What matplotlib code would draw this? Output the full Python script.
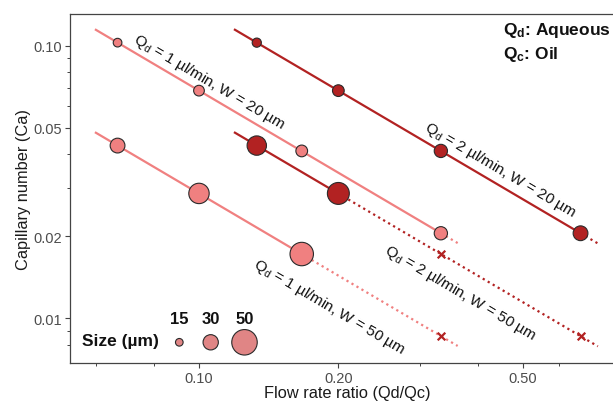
import numpy as np
import matplotlib
matplotlib.use("Agg")
import matplotlib.pyplot as plt
from matplotlib.ticker import FixedLocator, FixedFormatter, NullFormatter

plt.rcParams['font.family'] = ['Liberation Sans', 'DejaVu Sans']
plt.rcParams['mathtext.fontset'] = 'custom'
plt.rcParams['mathtext.rm'] = 'Liberation Sans'
plt.rcParams['mathtext.it'] = 'Liberation Sans:italic'
plt.rcParams['mathtext.bf'] = 'Liberation Sans:bold'

# ---------------- data ----------------
ratio_q1 = [0.0667, 0.100, 0.1667, 0.333]      # Qd = 1 ul/min
ratio_q2 = [0.1333, 0.200, 0.333, 0.667]       # Qd = 2 ul/min
ca_w20 = [0.1026, 0.0684, 0.0411, 0.0205]
ca_w50 = [0.0430, 0.0287, 0.0172, 0.0086]

size_q1_w20 = [17, 21, 23, 26]
size_q2_w20 = [18, 23, 26, 29]
size_q1_w50 = [29, 40, 46]          # last point: no droplets (x)
size_q2_w50 = [38, 43]              # last two points: no droplets (x)

line_start_q1 = 0.0596
line_start_q2 = 0.119
line_end_q1 = 0.362
line_end_q2 = 0.727

labels = ["Q$_\\mathregular{d}$ = 1 µl/min, W = 20 µm",
          "Q$_\\mathregular{d}$ = 2 µl/min, W = 20 µm",
          "Q$_\\mathregular{d}$ = 2 µl/min, W = 50 µm",
          "Q$_\\mathregular{d}$ = 1 µl/min, W = 50 µm"]
label_pos_x = [0.0719, 0.305, 0.2585, 0.1350]
label_pos_y = [0.1043, 0.0497, 0.01935, 0.01720]

legend_sizes = [15, 30, 50]
x_major = [0.10, 0.20, 0.50]
x_minor = [0.06, 0.08, 0.3, 0.4, 0.6, 0.8]
y_major = [0.01, 0.02, 0.05, 0.10]
y_minor = [0.008, 0.009, 0.03, 0.04, 0.06, 0.07, 0.08, 0.09]

LIGHT = '#F08080'
DARK = '#B22222'
EDGE = '#2a2a2a'

def s_of(d):
    return (0.367 * np.asarray(d, float)) ** 2

fig = plt.figure(figsize=(6.13, 4.02), dpi=100)
ax = fig.add_axes([70/613, 38/402, 554/613, 349/402])
ax.set_xscale('log')
ax.set_yscale('log')
ax.set_xlim(0.05265, 0.828)
ax.set_ylim(0.00685, 0.1307)

series = [
    (ratio_q1, ca_w20, size_q1_w20, LIGHT, line_start_q1, line_end_q1),
    (ratio_q2, ca_w20, size_q2_w20, DARK, line_start_q2, line_end_q2),
    (ratio_q1, ca_w50, size_q1_w50, LIGHT, line_start_q1, line_end_q1),
    (ratio_q2, ca_w50, size_q2_w50, DARK, line_start_q2, line_end_q2),
]

for rx, cy, sz, col, x0, x1 in series:
    lx = np.log10(rx); ly = np.log10(cy)
    a, b = np.polyfit(lx, ly, 1)
    f = lambda x: 10 ** (a * np.log10(x) + b)
    n = len(sz)
    xs_solid = np.array([x0, rx[n - 1]])
    xs_dot = np.array([rx[n - 1], x1])
    ax.plot(xs_solid, f(xs_solid), color=col, lw=1.6, zorder=2, solid_capstyle='butt')
    ax.plot(xs_dot, f(xs_dot), color=col, lw=1.6, ls=(0, (1, 1.6)), zorder=2)
    ax.scatter(rx[:n], cy[:n], s=s_of(sz), color=col, edgecolors=EDGE,
               linewidths=0.8, zorder=3)
    if n < len(rx):
        ax.scatter(rx[n:], cy[n:], marker='x', s=30, color=DARK, linewidths=1.6, zorder=3)

# rotation of lines in display space
fig.canvas.draw()
p0 = ax.transData.transform((0.1, 0.05))
p1 = ax.transData.transform((0.2, 0.025))
ang = np.degrees(np.arctan2(p1[1] - p0[1], p1[0] - p0[0]))

vas = ['baseline', 'baseline', 'top', 'top']
for t, x, y, va in zip(labels, label_pos_x, label_pos_y, vas):
    ax.text(x, y, t, rotation=ang, rotation_mode='anchor', ha='left', va=va,
            fontsize=11, color='#111111', zorder=4)

# axes styling
for sp in ['left', 'bottom', 'top']:
    ax.spines[sp].set_color('#444444')
    ax.spines[sp].set_linewidth(0.9)
ax.spines['right'].set_visible(False)
ax.xaxis.set_major_locator(FixedLocator(x_major))
ax.xaxis.set_major_formatter(FixedFormatter(['%.2f' % v for v in x_major]))
ax.xaxis.set_minor_locator(FixedLocator(x_minor))
ax.xaxis.set_minor_formatter(NullFormatter())
ax.yaxis.set_major_locator(FixedLocator(y_major))
ax.yaxis.set_major_formatter(FixedFormatter(['%.2f' % v for v in y_major]))
ax.yaxis.set_minor_locator(FixedLocator(y_minor))
ax.yaxis.set_minor_formatter(NullFormatter())
ax.tick_params(which='major', length=3.5, width=0.8, color='#444444',
               labelsize=10.5, labelcolor='#4d4d4d', pad=2)
ax.tick_params(which='minor', length=2, width=0.7, color='#444444')
ax.set_xlabel('Flow rate ratio (Qd/Qc)', fontsize=11.75, color='#1a1a1a')
ax.set_ylabel('Capillary number (Ca)', fontsize=11.75, color='#1a1a1a')
ax.xaxis.set_label_coords((347 - 70) / 554, -(386 - 364) / 349)
ax.yaxis.set_label_coords(-(70 - 31) / 554, 0.5)

# phase annotation
fig.text(503/613, 1 - 31/402, 'Q$_\\mathbf{d}$: Aqueous', fontsize=12.5, fontweight='bold',
         ha='left', va='center', color='#111111')
fig.text(503/613, 1 - 55/402, 'Q$_\\mathbf{c}$: Oil', fontsize=12.5, fontweight='bold',
         ha='left', va='center', color='#111111')

# size legend
fig.text(81.7/613, 1 - 342/402, 'Size (µm)', fontsize=12.5, fontweight='bold',
         ha='left', va='center', color='#111111')
leg_x = [179.3/613, 210.7/613, 244.5/613]
for xx, sv in zip(leg_x, legend_sizes):
    fig.text(xx, 1 - 320/402, str(sv), fontsize=12, fontweight='bold',
             ha='center', va='center', color='#111111')
fig_ax = fig.add_axes([0, 0, 1, 1], facecolor='none')
fig_ax.set_xlim(0, 1); fig_ax.set_ylim(0, 1); fig_ax.axis('off')
fig_ax.scatter(leg_x, [1 - 343.3/402] * 3, s=s_of(legend_sizes), color='#E08585',
               edgecolors=EDGE, linewidths=0.8, zorder=5)

fig.savefig('out.png', dpi=100)
